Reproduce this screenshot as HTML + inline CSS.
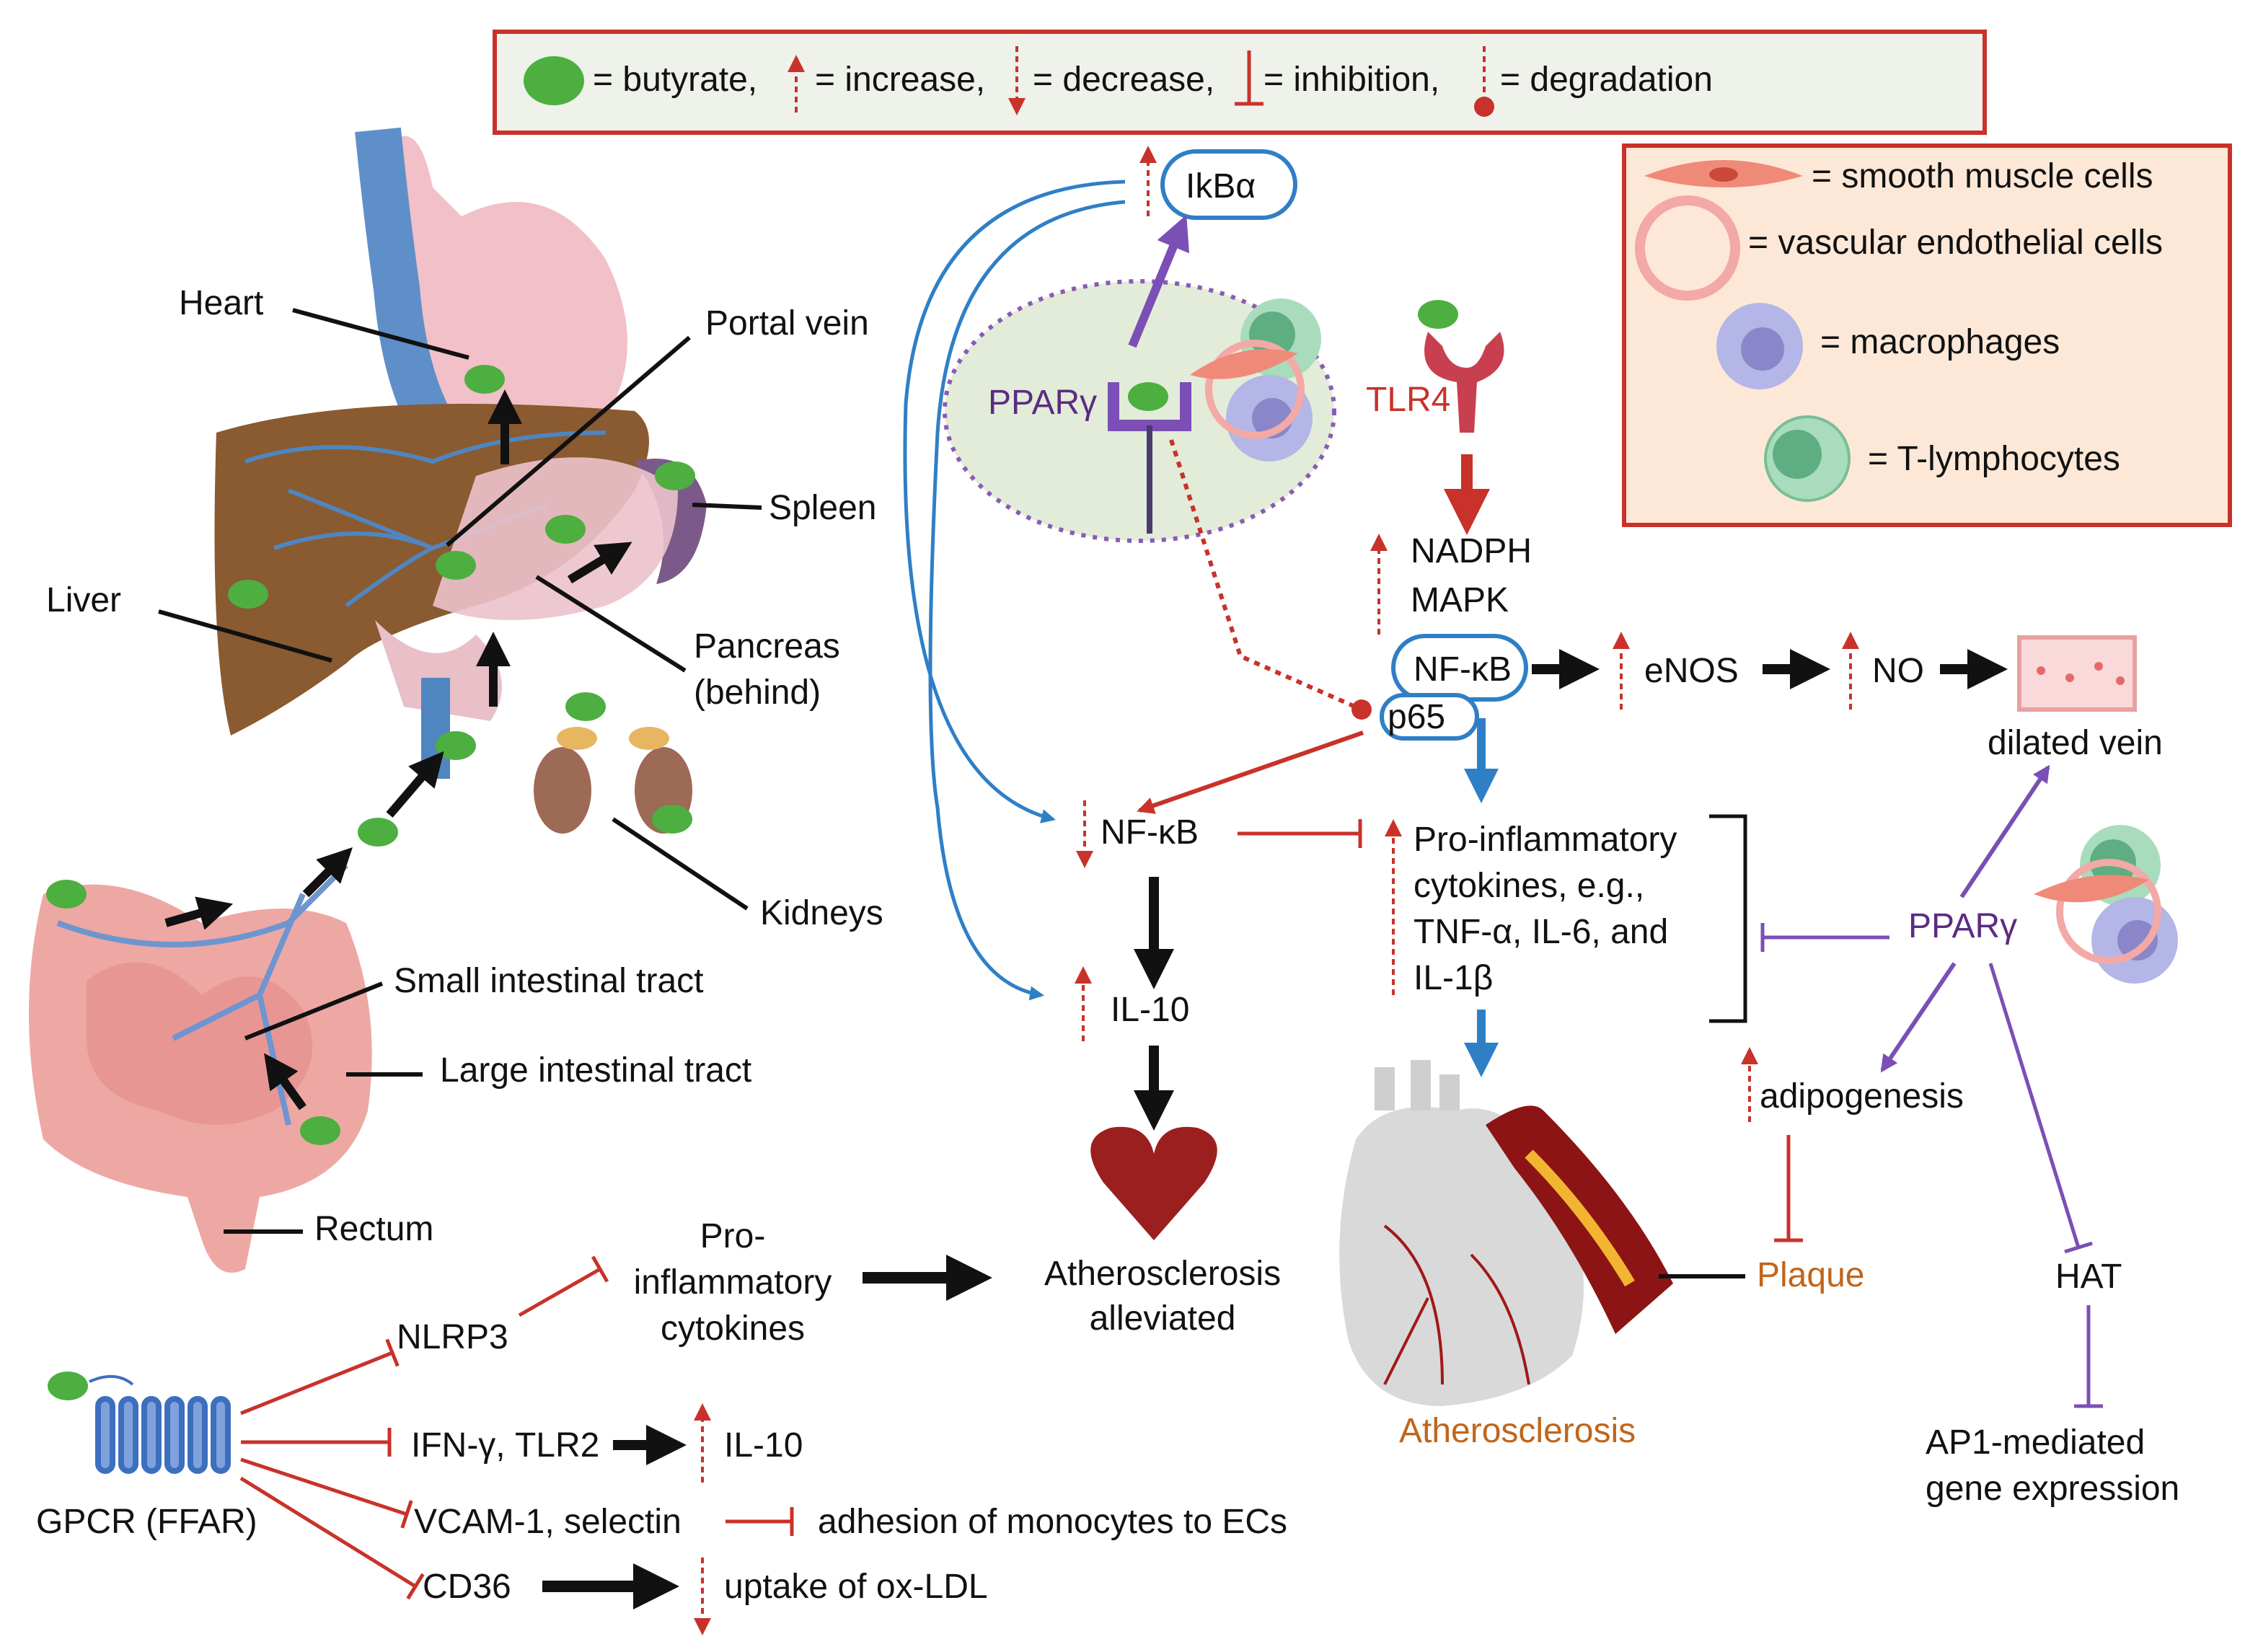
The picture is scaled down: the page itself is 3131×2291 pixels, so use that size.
<!DOCTYPE html>
<html><head><meta charset="utf-8"><style>
html,body{margin:0;padding:0;background:#fff;}
svg{display:block;}
text{font-family:"Liberation Sans",sans-serif;font-size:24px;fill:#111;}
</style></head><body>
<svg width="3131" height="2291" viewBox="0 0 1565.5 1145.5" xmlns="http://www.w3.org/2000/svg">
<defs>
<marker id="bk" markerWidth="4" markerHeight="4" refX="2" refY="2" orient="auto"><path d="M0,0 L4,2 L0,4 z" fill="#111"/></marker>
<marker id="bl" markerWidth="4" markerHeight="4" refX="2" refY="2" orient="auto"><path d="M0,0 L4,2 L0,4 z" fill="#2f7fc6"/></marker>
<marker id="blt" markerWidth="10" markerHeight="10" refX="8" refY="5" orient="auto" markerUnits="userSpaceOnUse"><path d="M0,0 L10,5 L0,10 z" fill="#2f7fc6"/></marker>
<marker id="rd" markerWidth="4" markerHeight="4" refX="2" refY="2" orient="auto"><path d="M0,0 L4,2 L0,4 z" fill="#c8322a"/></marker>
<marker id="rdt" markerWidth="12" markerHeight="12" refX="10" refY="6" orient="auto" markerUnits="userSpaceOnUse"><path d="M0,0 L12,6 L0,12 z" fill="#c8322a"/></marker>
<marker id="pu" markerWidth="12" markerHeight="12" refX="10" refY="6" orient="auto" markerUnits="userSpaceOnUse"><path d="M0,0 L12,6 L0,12 z" fill="#7b4fb5"/></marker>
<marker id="pu3" markerWidth="4" markerHeight="4" refX="2" refY="2" orient="auto"><path d="M0,0 L4,2 L0,4 z" fill="#7b4fb5"/></marker>
<marker id="tr" markerWidth="4" markerHeight="20" refX="2" refY="10" orient="auto" markerUnits="userSpaceOnUse"><path d="M2,0 V20" stroke="#c8322a" stroke-width="2.5"/></marker>
<marker id="tp" markerWidth="4" markerHeight="20" refX="2" refY="10" orient="auto" markerUnits="userSpaceOnUse"><path d="M2,0 V20" stroke="#7b4fb5" stroke-width="2.5"/></marker>
</defs>

<rect x="343" y="22" width="1033" height="70" fill="#eef2ea" stroke="#c8322a" stroke-width="3"/>
<ellipse cx="384" cy="56" rx="21" ry="17" fill="#4caf3f"/>
<text x="411" y="63">= butyrate,</text>
<line x1="552" y1="78" x2="552" y2="40" stroke="#c8322a" stroke-width="2" stroke-dasharray="4,3" marker-end="url(#rdt)"/>
<text x="565" y="63">= increase,</text>
<line x1="705" y1="32" x2="705" y2="78" stroke="#c8322a" stroke-width="2" stroke-dasharray="4,3" marker-end="url(#rdt)"/>
<text x="716" y="63">= decrease,</text>
<line x1="866" y1="35" x2="866" y2="72" stroke="#c8322a" stroke-width="2.5"/><line x1="856" y1="72" x2="876" y2="72" stroke="#c8322a" stroke-width="2.5"/>
<text x="876" y="63">= inhibition,</text>
<line x1="1029" y1="32" x2="1029" y2="70" stroke="#c8322a" stroke-width="2" stroke-dasharray="4,3"/><circle cx="1029" cy="74" r="7" fill="#c8322a"/>
<text x="1040" y="63">= degradation</text>

<rect x="1126" y="101" width="420" height="263" fill="#fde8d8" stroke="#c8322a" stroke-width="3"/>
<path d="M1140,122 Q1195,100 1250,122 Q1195,138 1140,122z" fill="#f08a78"/><ellipse cx="1195" cy="121" rx="10" ry="5" fill="#c9483a"/>
<text x="1256" y="130">= smooth muscle cells</text>
<circle cx="1170" cy="172" r="33" fill="none" stroke="#f3a9a6" stroke-width="7"/>
<text x="1212" y="176">= vascular endothelial cells</text>
<circle cx="1220" cy="240" r="30" fill="#b3b6e6"/><circle cx="1222" cy="242" r="15" fill="#8b86c9"/>
<text x="1262" y="245">= macrophages</text>
<circle cx="1253" cy="318" r="29" fill="#a9dcbc" stroke="#79be94" stroke-width="2"/><circle cx="1246" cy="315" r="17" fill="#5fae82"/>
<text x="1295" y="326">= T-lymphocytes</text>

<path d="M270,100 Q290,80 300,130 L320,150 Q380,120 420,180 Q450,240 420,290 Q380,300 340,285 L310,300 L290,290 Q270,200 270,100z" fill="#f2c0c8"/>
<path d="M262,90 Q268,150 275,200 Q280,260 300,295" stroke="#5f8fc9" stroke-width="32" fill="none"/>
<path d="M150,300 Q250,270 440,285 Q460,300 440,340 Q400,400 330,420 Q260,440 240,460 Q200,490 160,510 Q145,450 150,300z" fill="#8a5a30"/>
<path d="M170,320 Q230,300 300,320 Q350,300 420,300" stroke="#4f86bf" stroke-width="3" fill="none"/>
<path d="M190,380 Q250,360 300,380 L380,350 M240,420 Q280,390 300,380 M200,340 L300,380" stroke="#4f86bf" stroke-width="3" fill="none"/>
<path d="M440,320 Q480,310 490,350 Q485,400 455,405 Q470,360 440,320z" fill="#7b5a8a"/>
<path d="M330,330 Q420,300 470,340 Q470,400 420,420 Q350,440 300,420z" fill="#ecc2cc" opacity="0.9"/>
<path d="M260,430 Q300,470 330,440 Q360,470 340,500 L280,490z" fill="#e9bfc8"/>
<rect x="292" y="470" width="20" height="70" fill="#4f86bf"/>
<ellipse cx="390" cy="548" rx="20" ry="30" fill="#9c6a55"/><ellipse cx="460" cy="548" rx="20" ry="30" fill="#9c6a55"/>
<ellipse cx="400" cy="512" rx="14" ry="8" fill="#e8b560"/><ellipse cx="450" cy="512" rx="14" ry="8" fill="#e8b560"/>
<path d="M30,620 Q80,600 140,640 Q200,620 240,640 Q265,700 255,770 Q240,820 180,830 L170,880 Q150,890 140,860 L130,830 Q60,820 30,790 Q10,700 30,620z" fill="#eea8a3"/>
<path d="M60,680 Q100,650 140,690 Q180,660 210,700 Q230,740 190,770 Q150,790 110,770 Q60,760 60,720z" fill="#e58f8b" opacity="0.7"/>
<path d="M40,640 Q120,670 200,640 L240,600 M120,720 L180,690 L210,620 M180,690 L200,780" stroke="#6f95d0" stroke-width="4" fill="none"/>
<g fill="#4caf3f">
<ellipse cx="336" cy="263" rx="14" ry="10"/><ellipse cx="468" cy="330" rx="14" ry="10"/><ellipse cx="392" cy="367" rx="14" ry="10"/>
<ellipse cx="316" cy="392" rx="14" ry="10"/><ellipse cx="172" cy="412" rx="14" ry="10"/><ellipse cx="406" cy="490" rx="14" ry="10"/>
<ellipse cx="316" cy="517" rx="14" ry="10"/><ellipse cx="262" cy="577" rx="14" ry="10"/><ellipse cx="466" cy="568" rx="14" ry="10"/>
<ellipse cx="46" cy="620" rx="14" ry="10"/><ellipse cx="222" cy="784" rx="14" ry="10"/>
</g>
<g stroke="#111" stroke-width="6" fill="none" marker-end="url(#bk)">
<line x1="350" y1="322" x2="350" y2="282"/><line x1="342" y1="490" x2="342" y2="450"/><line x1="395" y1="402" x2="428" y2="382"/>
<line x1="270" y1="565" x2="300" y2="530"/><line x1="212" y1="620" x2="236" y2="596"/><line x1="115" y1="640" x2="150" y2="630"/><line x1="210" y1="768" x2="190" y2="740"/>
</g>
<g stroke="#111" stroke-width="3">
<line x1="203" y1="215" x2="325" y2="248"/><line x1="478" y1="234" x2="310" y2="378"/><line x1="480" y1="350" x2="528" y2="352"/>
<line x1="110" y1="424" x2="230" y2="458"/><line x1="372" y1="400" x2="475" y2="465"/><line x1="425" y1="568" x2="518" y2="630"/>
<line x1="265" y1="682" x2="170" y2="720"/><line x1="293" y1="745" x2="240" y2="745"/><line x1="155" y1="854" x2="210" y2="854"/>
</g>
<text x="124" y="218">Heart</text><text x="489" y="232">Portal vein</text><text x="533" y="360">Spleen</text>
<text x="32" y="424">Liver</text><text x="481" y="456">Pancreas</text><text x="481" y="488">(behind)</text>
<text x="527" y="641">Kidneys</text><text x="273" y="688">Small intestinal tract</text><text x="305" y="750">Large intestinal tract</text>
<text x="218" y="860">Rectum</text>

<rect x="806" y="105" width="92" height="46" rx="23" fill="#fff" stroke="#2f7fc6" stroke-width="3"/>
<text x="822" y="137">IkBα</text>
<line x1="796" y1="150" x2="796" y2="103" stroke="#c8322a" stroke-width="2" stroke-dasharray="4,3" marker-end="url(#rdt)"/>
<ellipse cx="790" cy="285" rx="135" ry="90" fill="#e3ecd8" stroke="#8a5bb5" stroke-width="3" stroke-dasharray="3,5"/>
<line x1="785" y1="240" x2="818" y2="160" stroke="#7b4fb5" stroke-width="6" marker-end="url(#pu3)"/>
<text x="685" y="287" style="fill:#5b2c83">PPARγ</text>
<path d="M772,265 V295 H822 V265" stroke="#7b4fb5" stroke-width="8" fill="none"/>
<line x1="797" y1="295" x2="797" y2="370" stroke="#4b3a6e" stroke-width="4"/>
<ellipse cx="796" cy="275" rx="14" ry="10" fill="#4caf3f"/>
<circle cx="888" cy="235" r="28" fill="#a9dcbc"/><circle cx="882" cy="232" r="16" fill="#5fae82"/>
<circle cx="880" cy="290" r="30" fill="#b3b6e6"/><circle cx="882" cy="290" r="14" fill="#8b86c9"/>
<circle cx="870" cy="270" r="32" fill="none" stroke="#f3a9a6" stroke-width="5"/>
<path d="M825,260 Q860,235 900,245 Q860,270 825,260z" fill="#f08a78"/>
<ellipse cx="997" cy="218" rx="14" ry="10" fill="#4caf3f"/>
<path d="M990,230 Q980,260 1010,265 L1012,300 L1022,300 L1024,265 Q1050,255 1040,230 L1030,240 Q1025,255 1017,255 Q1005,255 1000,240z" fill="#c8404f"/>
<text x="947" y="285" style="fill:#c8322a">TLR4</text>
<line x1="1017" y1="315" x2="1017" y2="355" stroke="#c8322a" stroke-width="8" marker-end="url(#rd)"/>
<line x1="956" y1="440" x2="956" y2="372" stroke="#c8322a" stroke-width="2" stroke-dasharray="4,3" marker-end="url(#rdt)"/>
<text x="978" y="390">NADPH</text><text x="978" y="424">MAPK</text>
<rect x="966" y="441" width="92" height="44" rx="22" fill="#fff" stroke="#2f7fc6" stroke-width="3"/>
<text x="980" y="472">NF-κB</text>
<rect x="958" y="482" width="66" height="30" rx="15" fill="#fff" stroke="#2f7fc6" stroke-width="3"/>
<text x="962" y="505">p65</text>
<path d="M812,305 L860,455 L944,492" stroke="#c8322a" stroke-width="3" stroke-dasharray="4,4" fill="none"/>
<circle cx="944" cy="492" r="7" fill="#c8322a"/>
<line x1="1062" y1="464" x2="1095" y2="464" stroke="#111" stroke-width="7" marker-end="url(#bk)"/>
<line x1="1124" y1="492" x2="1124" y2="440" stroke="#c8322a" stroke-width="2" stroke-dasharray="4,3" marker-end="url(#rdt)"/>
<text x="1140" y="473">eNOS</text>
<line x1="1222" y1="464" x2="1255" y2="464" stroke="#111" stroke-width="7" marker-end="url(#bk)"/>
<line x1="1283" y1="492" x2="1283" y2="440" stroke="#c8322a" stroke-width="2" stroke-dasharray="4,3" marker-end="url(#rdt)"/>
<text x="1298" y="473">NO</text>
<line x1="1345" y1="464" x2="1378" y2="464" stroke="#111" stroke-width="7" marker-end="url(#bk)"/>
<rect x="1400" y="442" width="80" height="50" fill="#f9d9d9" stroke="#e9a0a0" stroke-width="3"/>
<g fill="#e46a6a"><circle cx="1415" cy="465" r="3"/><circle cx="1435" cy="470" r="3"/><circle cx="1455" cy="462" r="3"/><circle cx="1470" cy="472" r="3"/></g>
<text x="1378" y="523">dilated vein</text>
<path d="M780,126 Q640,130 628,280 Q620,540 730,568" stroke="#2f7fc6" stroke-width="2.5" fill="none" marker-end="url(#blt)"/>
<path d="M780,140 Q660,150 650,300 Q640,500 650,560 Q660,680 722,690" stroke="#2f7fc6" stroke-width="2.5" fill="none" marker-end="url(#blt)"/>
<line x1="1027" y1="498" x2="1027" y2="545" stroke="#2f7fc6" stroke-width="6" marker-end="url(#bl)"/>
<line x1="1027" y1="700" x2="1027" y2="735" stroke="#2f7fc6" stroke-width="6" marker-end="url(#bl)"/>
<line x1="945" y1="508" x2="790" y2="562" stroke="#c8322a" stroke-width="3" marker-end="url(#rdt)"/>
<line x1="752" y1="555" x2="752" y2="600" stroke="#c8322a" stroke-width="2" stroke-dasharray="4,3" marker-end="url(#rdt)"/>
<text x="763" y="585">NF-κB</text>
<line x1="858" y1="578" x2="943" y2="578" stroke="#c8322a" stroke-width="2.5" marker-end="url(#tr)"/>
<line x1="966" y1="690" x2="966" y2="570" stroke="#c8322a" stroke-width="2" stroke-dasharray="4,3" marker-end="url(#rdt)"/>
<text x="980" y="590">Pro-inflammatory</text><text x="980" y="622">cytokines, e.g.,</text>
<text x="980" y="654">TNF-α, IL-6, and</text><text x="980" y="686">IL-1β</text>
<path d="M1185,566 H1210 V708 H1185" stroke="#111" stroke-width="2.5" fill="none"/>
<line x1="800" y1="608" x2="800" y2="672" stroke="#111" stroke-width="7" marker-end="url(#bk)"/>
<line x1="751" y1="722" x2="751" y2="672" stroke="#c8322a" stroke-width="2" stroke-dasharray="4,3" marker-end="url(#rdt)"/>
<text x="770" y="708">IL-10</text>
<line x1="800" y1="725" x2="800" y2="770" stroke="#111" stroke-width="7" marker-end="url(#bk)"/>
<path d="M800,860 L765,820 Q745,790 770,782 Q795,778 800,800 Q805,778 830,782 Q855,790 835,820z" fill="#9c1f1f"/>
<text x="806" y="891" text-anchor="middle">Atherosclerosis</text><text x="806" y="922" text-anchor="middle">alleviated</text>
<path d="M940,790 Q960,760 1010,770 Q1050,760 1080,820 Q1110,880 1090,940 Q1060,970 1000,975 Q950,975 935,930 Q920,860 940,790z" fill="#d9d9d9"/>
<path d="M960,770 V740 M985,770 V735 M1005,770 V745" stroke="#cfcfcf" stroke-width="14"/>
<path d="M960,850 Q1000,880 1000,960 M1020,870 Q1050,900 1060,960 M990,900 L960,960" stroke="#a01818" stroke-width="2" fill="none"/>
<path d="M1030,780 Q1060,760 1070,770 Q1130,830 1160,890 L1120,925 Q1090,860 1050,810z" fill="#8c1414"/>
<path d="M1060,800 Q1100,840 1130,890" stroke="#f2b531" stroke-width="8" fill="none"/>
<line x1="1150" y1="885" x2="1210" y2="885" stroke="#111" stroke-width="3"/>
<text x="1218" y="892" style="fill:#c0651a">Plaque</text>
<text x="970" y="1000" style="fill:#c0651a">Atherosclerosis</text>
<text x="1323" y="650" style="fill:#5b2c83">PPARγ</text>
<circle cx="1470" cy="600" r="28" fill="#a9dcbc"/><circle cx="1465" cy="598" r="16" fill="#5fae82"/>
<circle cx="1480" cy="652" r="30" fill="#b3b6e6"/><circle cx="1482" cy="652" r="14" fill="#8b86c9"/>
<circle cx="1462" cy="632" r="34" fill="none" stroke="#f3a9a6" stroke-width="5"/>
<path d="M1410,620 Q1450,600 1490,610 Q1450,635 1410,620z" fill="#f08a78"/>
<line x1="1310" y1="650" x2="1222" y2="650" stroke="#7b4fb5" stroke-width="2.5" marker-end="url(#tp)"/>
<line x1="1360" y1="622" x2="1420" y2="532" stroke="#7b4fb5" stroke-width="3" marker-end="url(#pu)"/>
<line x1="1355" y1="668" x2="1305" y2="742" stroke="#7b4fb5" stroke-width="3" marker-end="url(#pu)"/>
<line x1="1380" y1="668" x2="1441" y2="865" stroke="#7b4fb5" stroke-width="2.5" marker-end="url(#tp)"/>
<line x1="1213" y1="778" x2="1213" y2="728" stroke="#c8322a" stroke-width="2" stroke-dasharray="4,3" marker-end="url(#rdt)"/>
<text x="1220" y="768">adipogenesis</text>
<line x1="1240" y1="787" x2="1240" y2="860" stroke="#c8322a" stroke-width="2.5" marker-end="url(#tr)"/>
<text x="1425" y="893">HAT</text>
<line x1="1448" y1="905" x2="1448" y2="975" stroke="#7b4fb5" stroke-width="2.5" marker-end="url(#tp)"/>
<text x="1335" y="1008">AP1-mediated</text><text x="1335" y="1040">gene expression</text>
<ellipse cx="47" cy="961" rx="14" ry="10" fill="#4caf3f"/>
<g stroke="#3d6fbf" stroke-width="4" fill="#7fa2dc">
<rect x="68" y="970" width="10" height="50" rx="5"/><rect x="84" y="970" width="10" height="50" rx="5"/><rect x="100" y="970" width="10" height="50" rx="5"/>
<rect x="116" y="970" width="10" height="50" rx="5"/><rect x="132" y="970" width="10" height="50" rx="5"/><rect x="148" y="970" width="10" height="50" rx="5"/>
</g>
<path d="M62,958 Q80,950 92,960" stroke="#3d6fbf" stroke-width="2" fill="none"/>
<text x="25" y="1063">GPCR (FFAR)</text>
<g stroke="#c8322a" stroke-width="2.5" fill="none">
<line x1="167" y1="980" x2="272" y2="938" marker-end="url(#tr)"/>
<line x1="167" y1="1000" x2="270" y2="1000" marker-end="url(#tr)"/>
<line x1="167" y1="1012" x2="282" y2="1050" marker-end="url(#tr)"/>
<line x1="167" y1="1025" x2="288" y2="1100" marker-end="url(#tr)"/>
<line x1="360" y1="912" x2="416" y2="880" marker-end="url(#tr)"/>
<line x1="503" y1="1055" x2="549" y2="1055" marker-end="url(#tr)"/>
</g>
<text x="275" y="935">NLRP3</text>
<text x="508" y="865" text-anchor="middle">Pro-</text><text x="508" y="897" text-anchor="middle">inflammatory</text><text x="508" y="929" text-anchor="middle">cytokines</text>
<line x1="598" y1="886" x2="672" y2="886" stroke="#111" stroke-width="8" marker-end="url(#bk)"/>
<text x="285" y="1010">IFN-γ, TLR2</text>
<line x1="425" y1="1002" x2="462" y2="1002" stroke="#111" stroke-width="7" marker-end="url(#bk)"/>
<line x1="487" y1="1028" x2="487" y2="975" stroke="#c8322a" stroke-width="2" stroke-dasharray="4,3" marker-end="url(#rdt)"/>
<text x="502" y="1010">IL-10</text>
<text x="287" y="1063">VCAM-1, selectin</text>
<text x="567" y="1063">adhesion of monocytes to ECs</text>
<text x="293" y="1108">CD36</text>
<line x1="376" y1="1100" x2="455" y2="1100" stroke="#111" stroke-width="8" marker-end="url(#bk)"/>
<line x1="487" y1="1080" x2="487" y2="1132" stroke="#c8322a" stroke-width="2" stroke-dasharray="4,3" marker-end="url(#rdt)"/>
<text x="502" y="1108">uptake of ox-LDL</text>
</svg>
</body></html>
